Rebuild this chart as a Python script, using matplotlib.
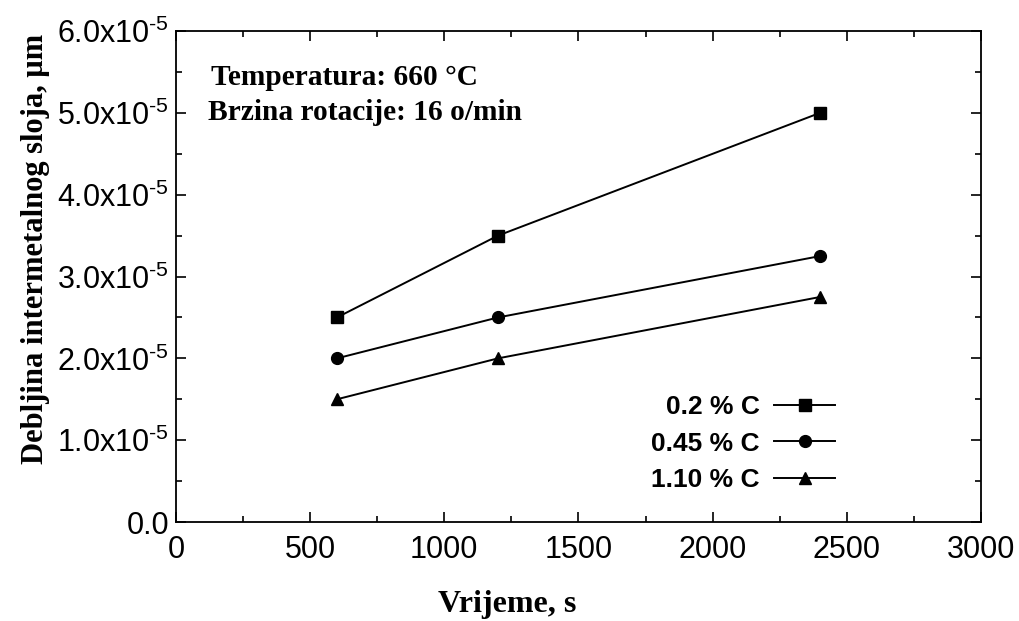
import matplotlib.pyplot as plt
from matplotlib.ticker import MultipleLocator, FuncFormatter

plt.rcParams['font.family'] = ['Liberation Sans', 'DejaVu Sans']
plt.rcParams['mathtext.fontset'] = 'custom'
plt.rcParams['mathtext.rm'] = 'Liberation Sans'

# Thickness of intermetallic layer vs. time for three carbon contents
time_s = [600, 1200, 2400]
c020 = [2.5e-5, 3.5e-5, 5.0e-5]
c045 = [2.0e-5, 2.5e-5, 3.25e-5]
c110 = [1.5e-5, 2.0e-5, 2.75e-5]
series_labels = ['0.2 % C', '0.45 % C', '1.10 % C']
series_markers = ['s', 'o', '^']

fig = plt.figure(figsize=(10.2, 6.21), dpi=100)
ax = fig.add_axes([0.1725, 0.1594, 0.7893, 0.7906])

for vals, lab, m in zip([c020, c045, c110], series_labels, series_markers):
    ax.plot(time_s, vals, color='black', lw=1.4, marker=m, markersize=8.5,
            clip_on=False, label=lab)

ax.set_xlim(0, 3000)
ax.set_ylim(0, 6e-5)
ax.xaxis.set_major_locator(MultipleLocator(500))
ax.xaxis.set_minor_locator(MultipleLocator(250))
ax.yaxis.set_major_locator(MultipleLocator(1e-5))
ax.yaxis.set_minor_locator(MultipleLocator(0.5e-5))


def yfmt(v, pos):
    if abs(v) < 1e-12:
        return '0.0'
    return '%.1fx10$^{\u2010\\mathregular{5}}$' % (v / 1e-5)


ax.yaxis.set_major_formatter(FuncFormatter(yfmt))
ax.tick_params(which='both', direction='in', top=True, right=True, width=1.2)
ax.tick_params(which='major', length=7, labelsize=22)
ax.tick_params(which='minor', length=4.5)
ax.tick_params(axis='x', which='major', pad=9)
ax.tick_params(axis='y', which='major', pad=5)
for s in ax.spines.values():
    s.set_linewidth(1.3)

ax.set_xlabel('Vrijeme, s', family='Liberation Serif', fontweight='bold',
              fontsize=23)
ax.xaxis.set_label_coords(0.411, -0.138)
ax.set_ylabel('Debljina intermetalnog sloja, μm', family='Liberation Serif',
              fontweight='bold', fontsize=22)
ax.yaxis.set_label_coords(-0.156, 0.556)

# operating conditions
ax.text(0.044, 0.890, 'Temperatura: 660 °C', transform=ax.transAxes,
        family='Liberation Serif', fontweight='bold', fontsize=21.2,
        va='baseline')
ax.text(0.040, 0.8187, 'Brzina rotacije: 16 o/min', transform=ax.transAxes,
        family='Liberation Serif', fontweight='bold', fontsize=21.2,
        va='baseline')

leg = ax.legend(loc='lower right', bbox_to_anchor=(0.8186, 0.061),
                markerfirst=False, frameon=False, borderpad=0,
                borderaxespad=0, handlelength=2.3, handletextpad=0.55,
                labelspacing=0.47, prop={'size': 19, 'weight': 'bold'})

fig.savefig('out.png', dpi=100)
